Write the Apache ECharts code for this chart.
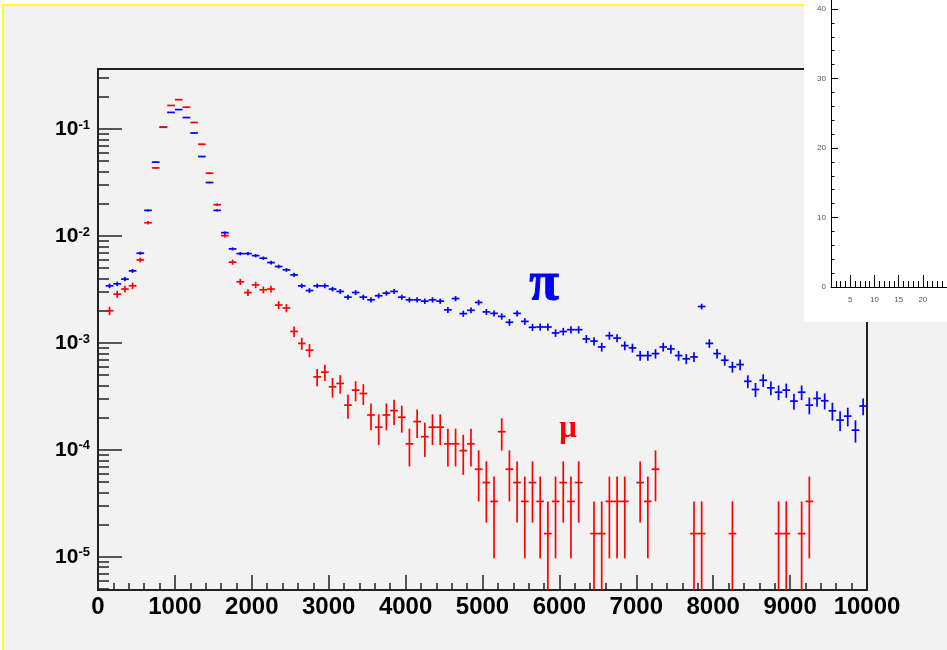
<!DOCTYPE html>
<html>
<head>
<meta charset="utf-8">
<script src="https://cdn.jsdelivr.net/npm/echarts@6/dist/echarts.min.js"></script>
<style>html,body{margin:0;padding:0;background:#fff}#c{width:947px;height:650px}</style>
</head>
<body>
<div id="c"></div>
<script>
// ---- data (normalized histograms, 100 bins of width 100 from 0 to 10000) ----
const BIN_WIDTH = 100;
const NBINS = 100;
const binCenters = Array.from({length: NBINS}, (_, i) => BIN_WIDTH / 2 + BIN_WIDTH * i);

const piValues = [null,0.00342,0.00357,0.00395,0.00472,0.0069,0.01735,0.049,0.104,0.143,
0.152,0.128,0.0918,0.0553,0.0316,0.01735,0.01074,0.00757,0.00684,0.00684,
0.00655,0.0062,0.00564,0.00518,0.00482,0.00433,0.00342,0.00309,0.00342,0.00342,
0.00319,0.00303,0.00268,0.00296,0.00268,0.00253,0.00276,0.00292,0.00303,0.00268,
0.00253,0.00253,0.00246,0.00253,0.00246,0.00204,0.0026,0.00188,0.00202,0.00239,
0.00195,0.00189,0.00177,0.00156,0.00189,0.00159,0.0014,0.00141,0.00141,0.00124,
0.00128,0.00133,0.00133,0.00109,0.00104,0.000917,0.00117,0.00111,0.000944,0.000898,
0.000762,0.000762,0.000795,0.000917,0.000879,0.000762,0.00071,0.00074,0.00219,0.00099,
0.000795,0.000689,0.000597,0.000628,0.000438,0.000367,0.000448,0.00038,0.000346,0.000362,
0.000286,0.000346,0.000262,0.000303,0.000288,0.000232,0.00019,0.000207,0.000153,0.000257];

const piErrors = [null,1.68e-4,1.72e-4,1.81e-4,1.98e-4,2.39e-4,3.8e-4,6.4e-4,9.3e-4,1.09e-3,
1.12e-3,1.03e-3,8.7e-4,6.8e-4,5.1e-4,3.8e-4,3.0e-4,2.5e-4,2.4e-4,2.4e-4,
2.3e-4,2.27e-4,2.16e-4,2.07e-4,2.0e-4,1.9e-4,1.68e-4,1.6e-4,1.68e-4,1.68e-4,
1.63e-4,1.59e-4,1.49e-4,1.57e-4,1.49e-4,1.45e-4,1.51e-4,1.56e-4,1.59e-4,1.49e-4,
1.45e-4,1.45e-4,1.43e-4,1.45e-4,1.43e-4,1.3e-4,1.47e-4,1.25e-4,1.29e-4,1.41e-4,
1.27e-4,1.25e-4,1.21e-4,1.14e-4,1.25e-4,1.15e-4,1.08e-4,1.08e-4,1.08e-4,1.01e-4,
1.03e-4,1.05e-4,1.05e-4,9.5e-5,9.3e-5,8.7e-5,9.9e-5,9.6e-5,8.9e-5,8.6e-5,
8.0e-5,8.0e-5,8.1e-5,8.7e-5,8.5e-5,8.0e-5,7.7e-5,7.8e-5,1.35e-4,9.1e-5,
8.1e-5,7.6e-5,7.0e-5,7.2e-5,6.0e-5,5.5e-5,6.1e-5,5.6e-5,5.4e-5,5.5e-5,
4.9e-5,5.4e-5,4.7e-5,5.0e-5,4.9e-5,4.4e-5,4.0e-5,4.1e-5,3.6e-5,4.6e-5];

const muValues = [null,0.0020,0.00286,0.00319,0.00342,0.00597,0.0133,0.0433,0.104,0.166,
0.188,0.160,0.115,0.072,0.0386,0.0196,0.01007,0.00569,0.00373,0.00296,
0.00349,0.00314,0.00319,0.00226,0.00212,0.00128,0.00099,0.000855,0.000482,0.000533,
0.000389,0.000418,0.000262,0.000362,0.000337,0.000212,0.000163,0.000212,0.000233,0.000202,
0.000114,0.000184,0.000133,0.000163,0.000163,0.000114,0.000114,0.0000985,0.000114,0.000066,
0.0000495,0.000033,0.000148,0.000066,0.0000495,0.000033,0.0000495,0.000033,0.0000165,0.000033,
0.0000495,0.000033,0.0000495,null,0.0000165,0.0000165,0.000033,0.000033,0.000033,null,
0.0000495,0.000033,0.000066,null,null,null,null,0.0000165,0.0000165,null,
null,null,0.0000165,null,null,null,null,null,0.0000165,0.0000165,
null,0.0000165,0.000033,null,null,null,null,null,null,null];

const muErrors = [null,1.8e-4,2.2e-4,2.3e-4,2.4e-4,3.1e-4,4.7e-4,8.5e-4,1.3e-3,1.65e-3,
1.76e-3,1.65e-3,1.38e-3,1.09e-3,8.0e-4,5.7e-4,4.1e-4,3.1e-4,2.5e-4,2.2e-4,
2.4e-4,2.3e-4,2.3e-4,1.9e-4,1.87e-4,1.46e-4,1.28e-4,1.19e-4,8.9e-5,9.3e-5,
8.1e-5,8.25e-5,6.6e-5,7.7e-5,7.4e-5,5.95e-5,5.2e-5,5.95e-5,6.2e-5,5.7e-5,
4.4e-5,5.5e-5,4.7e-5,5.2e-5,5.2e-5,4.4e-5,4.4e-5,4.0e-5,4.4e-5,3.3e-5,
2.86e-5,2.33e-5,4.95e-5,3.3e-5,2.86e-5,2.33e-5,2.86e-5,2.33e-5,1.65e-5,2.33e-5,
2.86e-5,2.33e-5,2.86e-5,null,1.65e-5,1.65e-5,2.33e-5,2.33e-5,2.33e-5,null,
2.86e-5,2.33e-5,3.3e-5,null,null,null,null,1.65e-5,1.65e-5,null,
null,null,1.65e-5,null,null,null,null,null,1.65e-5,1.65e-5,
null,1.65e-5,2.33e-5,null,null,null,null,null,null,null];

// axis ranges / tick labels
const X_MIN = 0, X_MAX = 10000, X_STEP = 1000;
const Y_MIN = 4.9e-6, Y_MAX = 0.364;
const Y_MAJOR = [1e-5, 1e-4, 1e-3, 1e-2, 1e-1];
const Y_MINOR = [];
for (let e = -6; e <= -1; e++) {
  for (let k = 2; k <= 9; k++) {
    const v = Number((k * Math.pow(10, e)).toPrecision(3));
    if (v > Y_MIN && v < Y_MAX) Y_MINOR.push(v);
  }
}
// inset (empty frame) axes
const INSET_X_LABELS = [5, 10, 15, 20];
const INSET_X_MINOR = [2,3,4,6,7,8,9,11,12,13,14,16,17,18,19,21,22,23,24];
const INSET_Y_LABELS = [0, 10, 20, 30, 40];
const INSET_Y_MINOR = [2,4,6,8,12,14,16,18,22,24,26,28,32,34,36,38];

const LABEL_PI = 'π';
const LABEL_MU = 'μ';

// ---- build ----
function toData(vals, errs) {
  const out = [];
  for (let i = 0; i < vals.length; i++) {
    if (vals[i] != null) out.push([binCenters[i], vals[i], errs[i]]);
  }
  return out;
}
function errRenderer(color) {
  return function (params, api) {
    const x = api.value(0), y = api.value(1), e = api.value(2);
    const pL = api.coord([x - BIN_WIDTH / 2, y]);
    const pR = api.coord([x + BIN_WIDTH / 2, y]);
    const lo = Math.max(y - e, Y_MIN);
    const hi = Math.min(y + e, Y_MAX);
    const pLo = api.coord([x, lo]);
    const pHi = api.coord([x, hi]);
    const st = {stroke: color, lineWidth: 1.7};
    return {type: 'group', children: [
      {type: 'line', shape: {x1: pL[0], y1: pL[1], x2: pR[0], y2: pR[1]}, style: st},
      {type: 'line', shape: {x1: pLo[0], y1: pLo[1], x2: pHi[0], y2: pHi[1]}, style: st}
    ]};
  };
}

const FONT = '"Liberation Sans", Arial, Helvetica, sans-serif';
const AX = '#222';

const chart = echarts.init(document.getElementById('c'), null, {renderer: 'canvas'});
chart.setOption({
  animation: false,
  backgroundColor: '#f2f2f2',
  grid: [
    {left: 98, top: 69, width: 769, height: 521, show: true, borderColor: AX, borderWidth: 2, backgroundColor: 'transparent'},
    {left: 831, top: 0, width: 123.6, height: 287, show: false}
  ],
  xAxis: [
    {gridIndex: 0, type: 'value', position: 'bottom', min: X_MIN, max: X_MAX, interval: X_STEP,
     axisLine: {lineStyle: {color: AX, width: 2}},
     axisTick: {inside: true, length: 15, lineStyle: {color: AX, width: 1.5}},
     minorTick: {show: true, splitNumber: 5, length: 7, lineStyle: {color: AX, width: 1.5}},
     splitLine: {show: false}, minorSplitLine: {show: false},
     axisLabel: {fontSize: 24, fontWeight: 'bold', fontFamily: FONT, color: '#000', margin: 5,
       formatter: function (v) { return String(v); }}},
    {gridIndex: 1, type: 'value', position: 'bottom', min: 1, max: 25, z: 10,
     axisLine: {lineStyle: {color: '#000', width: 1}},
     axisTick: {inside: true, length: 12, customValues: INSET_X_LABELS, lineStyle: {color: '#000'}},
     axisLabel: {customValues: INSET_X_LABELS, fontSize: 8, color: '#555', margin: 9, fontFamily: FONT},
     splitLine: {show: false}},
    {gridIndex: 1, type: 'value', position: 'bottom', min: 1, max: 25, z: 10,
     axisLine: {show: false}, axisLabel: {show: false},
     axisTick: {inside: true, length: 6, customValues: INSET_X_MINOR, lineStyle: {color: '#000'}},
     splitLine: {show: false}}
  ],
  yAxis: [
    {gridIndex: 0, type: 'log', position: 'left', logBase: 10, min: Y_MIN, max: Y_MAX,
     axisLine: {show: true, lineStyle: {color: AX, width: 2}},
     axisTick: {show: true, inside: true, length: 24, customValues: Y_MAJOR, lineStyle: {color: AX, width: 1.5}},
     axisLabel: {customValues: Y_MAJOR, margin: 8,
       formatter: function (v) { return '{b|10}{s|' + Math.round(Math.log10(v)) + '}'; },
       rich: {
         b: {fontSize: 21, fontWeight: 'bold', fontFamily: FONT, color: '#000'},
         s: {fontSize: 13, fontWeight: 'bold', fontFamily: FONT, color: '#000', verticalAlign: 'top'}
       }},
     splitLine: {show: false}},
    {gridIndex: 0, type: 'log', position: 'left', logBase: 10, min: Y_MIN, max: Y_MAX,
     axisLine: {show: false}, axisLabel: {show: false},
     axisTick: {show: true, inside: true, length: 11, customValues: Y_MINOR, lineStyle: {color: AX, width: 1.5}},
     splitLine: {show: false}},
    {gridIndex: 1, type: 'value', position: 'left', min: 0, max: 41.3, z: 10,
     axisLine: {show: true, lineStyle: {color: '#000', width: 1}},
     axisTick: {show: true, inside: true, length: 7, customValues: INSET_Y_LABELS, lineStyle: {color: '#000'}},
     axisLabel: {customValues: INSET_Y_LABELS, fontSize: 8, color: '#555', margin: 5, fontFamily: FONT},
     splitLine: {show: false}},
    {gridIndex: 1, type: 'value', position: 'left', min: 0, max: 41.3, z: 10,
     axisLine: {show: false}, axisLabel: {show: false},
     axisTick: {show: true, inside: true, length: 3.5, customValues: INSET_Y_MINOR, lineStyle: {color: '#000'}},
     splitLine: {show: false}}
  ],
  series: [
    {type: 'custom', name: 'pi', xAxisIndex: 0, yAxisIndex: 0, z: 3,
     dimensions: ['x', 'y', 'err'], encode: {x: 0, y: 1},
     renderItem: errRenderer('#0000ff'), data: toData(piValues, piErrors)},
    {type: 'custom', name: 'mu', xAxisIndex: 0, yAxisIndex: 0, z: 4,
     dimensions: ['x', 'y', 'err'], encode: {x: 0, y: 1},
     renderItem: errRenderer('#ff0000'), data: toData(muValues, muErrors)}
  ],
  graphic: [
    {type: 'rect', z: 1, shape: {x: 0, y: 0, width: 947, height: 4}, style: {fill: '#ffffff'}, silent: true},
    {type: 'rect', z: 1, shape: {x: 0, y: 0, width: 2, height: 650}, style: {fill: '#ffffff'}, silent: true},
    {type: 'line', z: 1, shape: {x1: 2, y1: 5, x2: 820, y2: 5}, style: {stroke: '#ffff22', lineWidth: 2}, silent: true},
    {type: 'line', z: 1, shape: {x1: 3, y1: 4, x2: 3, y2: 650}, style: {stroke: '#ffff22', lineWidth: 2}, silent: true},
    {type: 'rect', z: 6, shape: {x: 804, y: 0, width: 143, height: 322}, style: {fill: '#ffffff'}, silent: true},
    {type: 'text', z: 5, style: {text: LABEL_PI, x: 544, y: 285, textAlign: 'center', textVerticalAlign: 'middle',
      font: 'bold 54px "Liberation Serif", "DejaVu Serif", serif', fill: '#0000ff', stroke: '#0000ff', lineWidth: 1}},
    {type: 'text', z: 5, style: {text: LABEL_MU, x: 568, y: 429, textAlign: 'center', textVerticalAlign: 'middle',
      font: 'bold 31px "Liberation Serif", "DejaVu Serif", serif', fill: '#ff0000'}}
  ]
});
</script>
</body>
</html>
